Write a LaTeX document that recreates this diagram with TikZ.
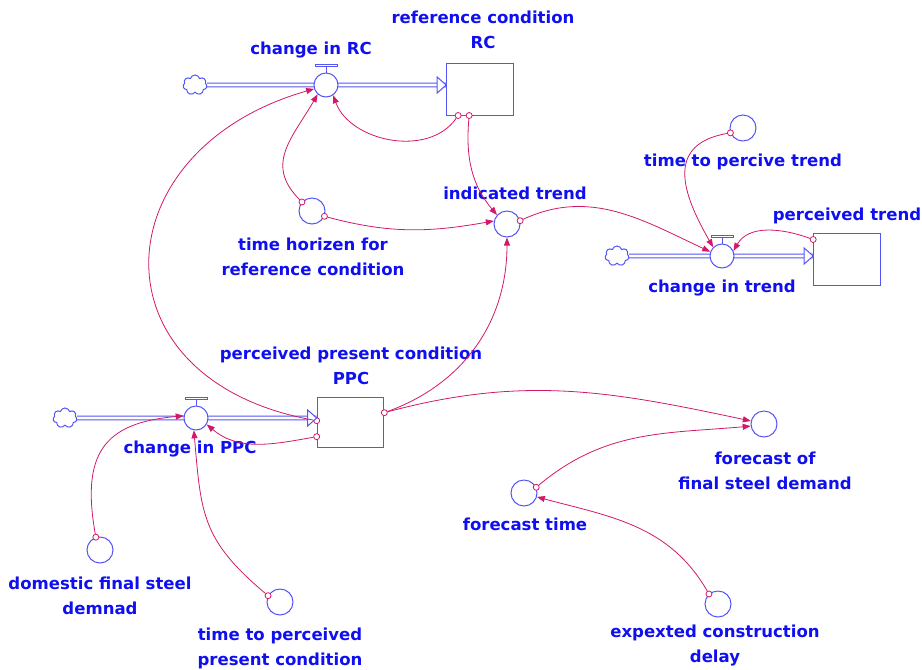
\documentclass[tikz,border=0pt]{standalone}
\usepackage{fontspec}
\setmainfont{DejaVu Sans}
\usepackage{tikz}
\usetikzlibrary{shapes.symbols, arrows.meta, positioning, calc, backgrounds}
\definecolor{textblue}{RGB}{15,15,240}
\definecolor{shapeblue}{RGB}{85,85,245}
\definecolor{linkred}{RGB}{210,25,105}

\begin{document}
\begin{tikzpicture}[
    x=0.75pt, y=0.75pt,
    stock/.style={rectangle, draw=shapeblue, fill=white, line width=0.75pt, minimum width=50pt, minimum height=39pt, inner sep=0pt},
    aux/.style={circle, draw=shapeblue, line width=0.75pt, minimum size=19.5pt, inner sep=0pt},
    valve/.style={circle, draw=shapeblue, fill=white, line width=0.75pt, minimum size=18pt, inner sep=0pt},
    source/.style={cloud, cloud puffs=7, aspect=1.1, draw=shapeblue, fill=white, line width=0.75pt, minimum width=18pt, minimum height=15pt, inner sep=0pt},
    tap/.style={circle, draw=linkred, fill=white, line width=0.6pt, minimum size=4.5pt, inner sep=0pt},
    pipe/.style={draw=shapeblue, line width=0.7pt, double=white, double distance=2.2pt},
    pipetip/.style={draw=shapeblue, fill=white, line width=0.75pt, line join=miter},
    handle/.style={draw=shapeblue, line width=0.75pt},
    link/.style={draw=linkred, line width=0.6pt, -{Triangle[length=6pt, width=4.5pt]}},
    lbl/.style={text=textblue, font=\bfseries\fontsize{12.4}{18.75}\selectfont, align=center, inner sep=0pt}
]
\useasboundingbox (0,0) rectangle (922,-669);

% stocks, valves and clouds
\node[stock] (sRC) at (480,-89) {};
\node[stock] (sPT) at (847,-259) {};
\node[stock, minimum height=38pt] (sPPC) at (350.5,-422.5) {};
\node[valve] (vRC) at (326,-85) {};
\node[valve] (vCT) at (722,-256) {};
\node[valve] (vPPC) at (196,-418) {};
\node[source] (cRC) at (195,-85) {};
\node[source] (cCT) at (617,-256) {};
\node[source] (cPPC) at (65,-418) {};

% auxiliaries
\node[aux] (iTrend) at (507,-224) {};
\node[aux] (tHor) at (312,-211) {};
\node[aux] (tPerc) at (743,-128) {};
\node[aux] (fFinal) at (764,-424) {};
\node[aux] (fTime) at (524,-493) {};
\node[aux] (eDelay) at (718,-604) {};
\node[aux] (dDem) at (100,-550) {};
\node[aux] (tPPC) at (280,-602) {};

% labels
\node[lbl] (lvRC) at (311,-50) {change in RC};
\node[lbl] (lsRC) at (483,-30) {reference condition\\RC};
\node[lbl] (liTrend) at (515,-193) {indicated trend};
\node[lbl] (ltHor) at (313,-257) {time horizen for\\reference condition};
\node[lbl] (ltPerc) at (743,-162) {time to percive trend};
\node[lbl] (lsPT) at (847,-216) {perceived trend};
\node[lbl] (lvCT) at (722,-288) {change in trend};
\node[lbl] (lsPPC) at (351,-366) {perceived present condition\\PPC};
\node[lbl] (lvPPC) at (190,-449) {change in PPC};
\node[lbl] (ldDem) at (100,-596) {domestic final steel\\demnad};
\node[lbl] (ltPPC) at (280,-648) {time to perceived\\present condition};
\node[lbl] (lfFinal) at (765,-471) {forecast of\\final steel demand};
\node[lbl] (lfTime) at (525,-524) {forecast time};
\node[lbl] (leDelay) at (715,-645) {expexted construction\\delay};

% link taps
\node[tap] (kRC1) at ($(sRC.south west)+(12,0)$) {};
\node[tap] (kRC2) at ($(sRC.south west)+(23,0)$) {};
\node[tap] (kPT) at ($(sPT.north west)+(0,-7)$) {};
\node[tap] (kPPC1) at ($(sPPC.north west)+(0,-24)$) {};
\node[tap] (kPPC2) at ($(sPPC.north west)+(0,-40)$) {};
\node[tap] (kPPC3) at ($(sPPC.north east)+(0,-16)$) {};
\node[tap] (kTH1) at (tHor.138) {};
\node[tap] (kTH2) at (tHor.-23) {};
\node[tap] (kIT) at (iTrend.14) {};
\node[tap] (kTP) at (tPerc.201) {};
\node[tap] (kDD) at (dDem.108) {};
\node[tap] (kTPPC) at (tPPC.152) {};
\node[tap] (kFT) at (fTime.25) {};
\node[tap] (kED) at (eDelay.132) {};

% flow pipes
\coordinate (pRC) at (sRC.west |- vRC);
\coordinate (pPT) at (sPT.west |- vCT);
\coordinate (pPPC) at (sPPC.west |- vPPC);
\begin{scope}[on background layer]
\draw[pipe] (cRC.east) -- (pRC);
\draw[pipe] (cCT.east) -- (pPT);
\draw[pipe] (cPPC.east) -- (pPPC);
\end{scope}
\draw[pipetip] ($(pRC)+(-9,8)$) -- (pRC) -- ($(pRC)+(-9,-8)$) -- cycle;
\draw[pipetip] ($(pPT)+(-9,8)$) -- (pPT) -- ($(pPT)+(-9,-8)$) -- cycle;
\draw[pipetip] ($(pPPC)+(-9,8)$) -- (pPPC) -- ($(pPPC)+(-9,-8)$) -- cycle;
\foreach \v in {vRC,vCT,vPPC}
  \draw[handle] (\v.north) -- ++(0,6) ++(-11,0) rectangle ++(22,2.5);

% links
\draw[link] (kRC1) to[out=235, in=-70] (vRC.-55);
\draw[link] (kRC2) to[out=265, in=130] (iTrend.138);
\draw[link] (kTH1) to[out=135, in=240, looseness=1.2] (vRC.228);
\draw[link] (kTH2) to[out=-15, in=190] (iTrend.167);
\draw[link] (kIT) to[out=25, in=155] (vCT.160);
\draw[link] (kTP) to[out=190, in=120, looseness=1.4] (vCT.135);
\draw[link] (kPT) to[out=160, in=60] (vCT.24);
\draw[link] (kPPC1) .. controls (90,-380) and (100,-150) .. (vRC.198);
\draw[link] (kPPC2) to[out=190, in=-40] (vPPC.-31);
\draw[link] (kDD) to[out=100, in=185, looseness=1.4] (vPPC.170);
\draw[link] (kTPPC) to[out=140, in=-85, looseness=1.2] (vPPC.-100);
\draw[link] (kPPC3) to[out=20, in=-90] (iTrend.-90);
\draw[link] (kPPC3) to[out=15, in=168] (fFinal.167);
\draw[link] (kFT) to[out=40, in=185] (fFinal.189);
\draw[link] (kED) to[out=120, in=-15] (fTime.-17);
\end{tikzpicture}
\end{document}
